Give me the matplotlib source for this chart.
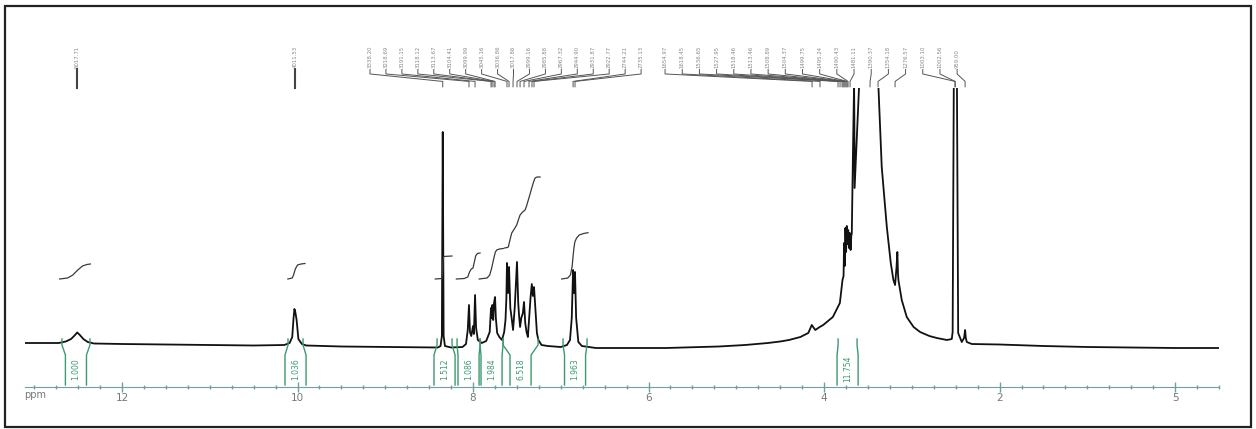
import numpy as np
import matplotlib
matplotlib.use("Agg")
import matplotlib.pyplot as plt
import matplotlib.transforms as mtransforms
from matplotlib.patches import Rectangle

# spectrum trace: chemical shift (ppm) / intensity above baseline
spec_ppm = [13.10, 12.90, 12.72, 12.64, 12.58, 12.54, 12.51, 12.48, 12.44, 12.39, 12.32, 12.00, 11.50, 11.00,
            10.50, 10.15, 10.09, 10.06, 10.045, 10.035, 10.025, 10.01, 9.99, 9.95, 9.90, 9.50, 9.00, 8.60,
            8.40, 8.37, 8.355, 8.345, 8.335, 8.32, 8.25, 8.12, 8.08, 8.06, 8.046, 8.035, 8.02, 8.00, 7.99,
            7.977, 7.965, 7.945, 7.90, 7.85, 7.81, 7.795, 7.787, 7.78, 7.77, 7.761, 7.749, 7.74, 7.725, 7.70,
            7.67, 7.645, 7.63, 7.62, 7.613, 7.60, 7.59, 7.575, 7.56, 7.544, 7.525, 7.499, 7.485, 7.475, 7.464,
            7.45, 7.432, 7.419, 7.405, 7.39, 7.375, 7.36, 7.345, 7.33, 7.318, 7.305, 7.29, 7.272, 7.255, 7.22,
            7.15, 7.00, 6.93, 6.895, 6.875, 6.86, 6.849, 6.838, 6.825, 6.80, 6.76, 6.60, 6.20, 5.80, 5.20,
            4.90, 4.64, 4.50, 4.40, 4.27, 4.18, 4.14, 4.10, 4.05, 4.01, 3.90, 3.82, 3.79, 3.778, 3.772, 3.765,
            3.757, 3.749, 3.741, 3.733, 3.725, 3.716, 3.707, 3.698, 3.69, 3.684, 3.67, 3.658, 3.655, 3.652,
            3.601, 3.55, 3.45, 3.381, 3.343, 3.285, 3.24, 3.21, 3.191, 3.175, 3.165, 3.158, 3.153, 3.115,
            3.058, 2.98, 2.906, 2.80, 2.716, 2.60, 2.545, 2.535, 2.52, 2.505, 2.488, 2.472, 2.431, 2.405,
            2.393, 2.385, 2.374, 2.317, 2.00, 1.50, 1.00, 0.50, 0.00, -0.50]
spec_int = [5, 5, 5, 6.5, 9, 12.5, 15.5, 13, 9, 6, 4.5, 4, 3.5, 3,
            2.5, 3, 5, 11, 30, 39, 36, 28, 9, 4, 2.5, 1.5, 1, 0.5,
            0.5, 2, 12, 216, 12, 2, 0.5, 1, 4, 18, 43, 16, 12, 22, 14,
            53, 20, 8, 5, 7, 16, 40, 30, 43, 28, 45, 51, 30, 15, 11,
            8, 16, 28, 50, 85, 55, 81, 40, 30, 18, 40, 86, 45, 32, 21,
            30, 35, 46, 25, 16, 11, 30, 50, 64, 52, 61, 40, 15, 8, 3,
            2, 1, 3, 8, 30, 78, 55, 76, 30, 6, 2, 0, 0, 0, 1.5,
            3, 5, 6.5, 8, 11, 15, 23, 18, 21, 23, 31, 45, 68, 72, 105, 82,
            120, 96, 122, 104, 118, 100, 115, 98, 112, 115, 200, 265, 230, 160,
            262, 420, 420, 262, 181, 121, 85, 68, 63, 80, 96, 75, 68, 48,
            31, 21, 16, 12, 10, 8, 9, 16, 300, 420, 300, 15, 6, 10,
            18, 10, 6, 4, 3.5, 2, 1, 0.5, 0, 0]

# integral curves
integral_ppm = [
    [12.71, 12.62, 12.56, 12.51, 12.45, 12.40, 12.36],
    [10.11, 10.06, 10.045, 10.025, 10.00, 9.96, 9.915],
    [8.43, 8.355, 8.347, 8.343, 8.335, 8.24],
    [8.19, 8.10, 8.06, 8.04, 8.02, 8.00, 7.985, 7.97, 7.95, 7.92],
    [7.93, 7.84, 7.81, 7.79, 7.775, 7.76, 7.745, 7.73, 7.70, 7.655],
    [7.64, 7.61, 7.598, 7.585, 7.559, 7.53, 7.502, 7.48, 7.464, 7.435, 7.407, 7.39, 7.37, 7.35, 7.331,
     7.31, 7.293, 7.27, 7.236],
    [6.99, 6.92, 6.89, 6.87, 6.86, 6.85, 6.84, 6.82, 6.79, 6.74, 6.69],
]
integral_val = [
    [69, 70, 73, 77.5, 82, 83.5, 84],
    [69, 70, 73, 79, 83, 84, 84.5],
    [69, 69.5, 76, 86, 91.5, 92],
    [69, 69.5, 71, 76, 79, 80, 86, 92, 94.5, 95],
    [69, 70, 73, 79, 85, 91, 96, 98, 99, 99.5],
    [100, 100.5, 101, 106, 115, 119, 123, 129, 133, 136, 138, 142, 148, 154, 160, 166, 170, 171, 171],
    [69, 70, 73, 82, 92, 100, 106, 110, 113, 114.5, 115.3],
]

# integration regions
region_start = [12.684, 10.108, 8.410, 8.182, 7.920, 7.658, 6.974, 3.840]
region_end = [12.365, 9.937, 8.239, 7.920, 7.658, 7.259, 6.701, 3.624]
region_text = ["1.000", "1.036", "1.512", "1.086", "1.984", "6.518", "1.963", "11.754"]

# peak picking labels (Hz) and the peak each one points at (ppm)
single_labels = ["5017.71", "4011.53"]
single_peaks = [12.51, 10.03]
group_a_labels = ["3338.20", "3218.69", "3191.15", "3118.12", "3113.67", "3104.41", "3099.99", "3045.16",
                  "3036.86", "3017.86", "2999.16", "2985.88", "2967.32", "2944.90", "2931.87", "2922.77",
                  "2744.21", "2735.13"]
group_a_peaks = [8.345, 8.046, 7.977, 7.795, 7.783, 7.761, 7.749, 7.613, 7.590, 7.544, 7.499, 7.464,
                 7.419, 7.362, 7.328, 7.305, 6.860, 6.838]
group_b_labels = ["1654.97", "1618.45", "1536.65", "1527.95", "1518.46", "1513.46", "1508.89", "1504.37",
                  "1499.75", "1495.24", "1490.43", "1481.11", "1390.37", "1354.18", "1276.57", "1003.10",
                  "1002.56", "959.00"]
group_b_peaks = [4.137, 4.046, 3.841, 3.818, 3.795, 3.784, 3.772, 3.761, 3.749, 3.738, 3.727, 3.704,
                 3.476, 3.385, 3.191, 2.507, 2.507, 2.393]

tick_values = [0, 2, 4, 6, 8, 10, 12]
tick_text = ["5", "2", "4", "6", "8", "10", "12"]

W, H = 1256, 429
fig = plt.figure(figsize=(W / 100, H / 100), dpi=100)
fig.add_artist(Rectangle((5 / W, 2 / H), 1246 / W, 421 / H, transform=fig.transFigure,
                         fill=False, ec='#222222', lw=1.6))

ax = fig.add_axes([25 / W, 42.3 / H, 1194 / W, 298.7 / H])
ax.set_xlim(13.105, -0.5)
ax.set_ylim(-38.7, 260)
ax.patch.set_alpha(0)
for s in ['top', 'left', 'right']:
    ax.spines[s].set_visible(False)
axis_col = '#6f9ea6'
ax.spines['bottom'].set_color(axis_col)
ax.set_yticks([])
ax.set_xticks(tick_values)
ax.set_xticklabels(tick_text)
ax.set_xticks(np.arange(-0.5, 13.01, 0.25), minor=True)
ax.tick_params(axis='x', which='major', direction='inout', length=7, width=1, color=axis_col,
               labelsize=7.5, labelcolor='#777777', pad=1)
ax.tick_params(axis='x', which='minor', direction='inout', length=3, width=1, color=axis_col)
fig.text(24 / W, (H - 395) / H, "ppm", fontsize=7, color='#777777', ha='left', va='center')

ax.plot(spec_ppm, spec_int, color='#111111', lw=1.3)

for xs, ys in zip(integral_ppm, integral_val):
    ax.plot(xs, ys, color='#3a3a3a', lw=0.9)

green = '#3c9a6e'
for l, r, t in zip(region_start, region_end, region_text):
    c = (l + r) / 2
    ax.plot([l, l, c + 0.12, c + 0.12], [9, 3, -7, -37], color=green, lw=1)
    ax.plot([r, r, c - 0.12, c - 0.12], [9, 3, -7, -37], color=green, lw=1)
    ax.text(c, -21, t, rotation=90, ha='center', va='center', fontsize=5.5, color=green)

trans = mtransforms.blended_transform_factory(ax.transData, ax.transAxes)

for lab, pk in zip(single_labels, single_peaks):
    ax.plot([pk, pk], [1.062, 1.0], transform=trans, clip_on=False, color='#444444', lw=1.5)
    ax.text(pk, 1.066, lab, transform=trans, rotation=90, ha='center', va='bottom',
            fontsize=3.9, color='#888888', clip_on=False)

for labels, peaks, lo, hi in [(group_a_labels, group_a_peaks, 9.174, 6.085),
                              (group_b_labels, group_b_peaks, 5.812, 2.484)]:
    xs = np.linspace(lo, hi, len(labels))
    for x, lab, pk in zip(xs, labels, peaks):
        ax.plot([x, x, pk, pk], [1.062, 1.047, 1.022, 1.004], transform=trans, clip_on=False,
                color='#555555', lw=0.7)
        ax.text(x, 1.066, lab, transform=trans, rotation=90, ha='center', va='bottom',
                fontsize=3.9, color='#888888', clip_on=False)

fig.savefig("out.png", dpi=100)
